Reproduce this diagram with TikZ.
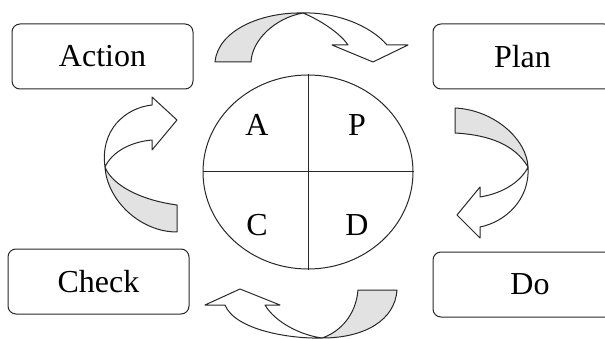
\documentclass[tikz,border=0pt]{standalone}
\usepackage{fontspec}
\setmainfont{Liberation Serif}
\usetikzlibrary{shapes.geometric,positioning}
\definecolor{linecolor}{RGB}{40,40,40}
\definecolor{backcolor}{RGB}{226,226,226}

\begin{document}
\begin{tikzpicture}[x=1pt,y=-1pt,box/.style={draw=linecolor,rounded corners=8pt,line width=1pt,minimum height=65pt,inner sep=0pt,font=\fontsize{32}{36}\selectfont},quad/.style={font=\fontsize{32}{36}\selectfont},front/.style={draw=linecolor,line width=1pt,fill=white,line join=round},back/.style={draw=linecolor,line width=1pt,fill=backcolor,line join=round}]
\useasboundingbox (0,0) rectangle (605,339); \clip (0,0) rectangle (605,339);
% the four steps
\node[box,minimum width=181pt](action) at (102.5,56.5){Action};
\node[box,minimum width=179pt](plan) at (522.5,56.5){Plan};
\node[box,minimum width=194pt](do) at (530,284.5){Do};
\node[box,minimum width=181pt](check) at (98.5,281.5){Check};
% the cycle in the middle
\node[ellipse,draw=linecolor,line width=1pt,minimum width=210pt,minimum height=194pt,inner sep=0pt](pdca) at (308,172){};
\draw[linecolor,line width=1pt](pdca.west)--(pdca.east); \draw[linecolor,line width=1pt](pdca.north)--(pdca.south);
\node[quad](a) at (257,125){A}; \node[quad](p) at (357,125){P};
\node[quad](c) at (257,225){C}; \node[quad](d) at (357,225){D};
% action -> plan
\draw[back](215,62)--(251,62) .. controls (252,40) and (275,18) .. (303,13) .. controls (262,12) and (218,30) .. (215,62)--cycle;
\draw[front](303,13) .. controls (335,12) and (370,25) .. (387,45)--(408,45)--(373,62)--(332,45)--(348,45) .. controls (340,33) and (320,20) .. (303,13)--cycle;
% plan -> do
\draw[back](455,108)--(455,133) .. controls (490,135) and (515,145) .. (528,167) .. controls (527,140) and (495,110) .. (455,108)--cycle;
\draw[front](528,167) .. controls (530,200) and (505,222) .. (480,227)--(480,238)--(457,215)--(480,187)--(480,197) .. controls (505,193) and (522,180) .. (528,167)--cycle;
% do -> check
\draw[back](358,290)--(397,290) .. controls (395,320) and (365,338) .. (322,338) .. controls (340,332) and (356,315) .. (358,290)--cycle;
\draw[front](322,338) .. controls (290,339) and (235,330) .. (225,305)--(205,305)--(240,289)--(280,305)--(265,305) .. controls (275,322) and (300,335) .. (322,338)--cycle;
% check -> action
\draw[back](177,205)--(177,232) .. controls (140,232) and (107,200) .. (105,167) .. controls (112,185) and (140,200) .. (177,205)--cycle;
\draw[front](105,167) .. controls (100,130) and (125,108) .. (152,105)--(152,97)--(177,120)--(152,150)--(152,140) .. controls (130,142) and (112,152) .. (105,167)--cycle;
\end{tikzpicture}
\end{document}
